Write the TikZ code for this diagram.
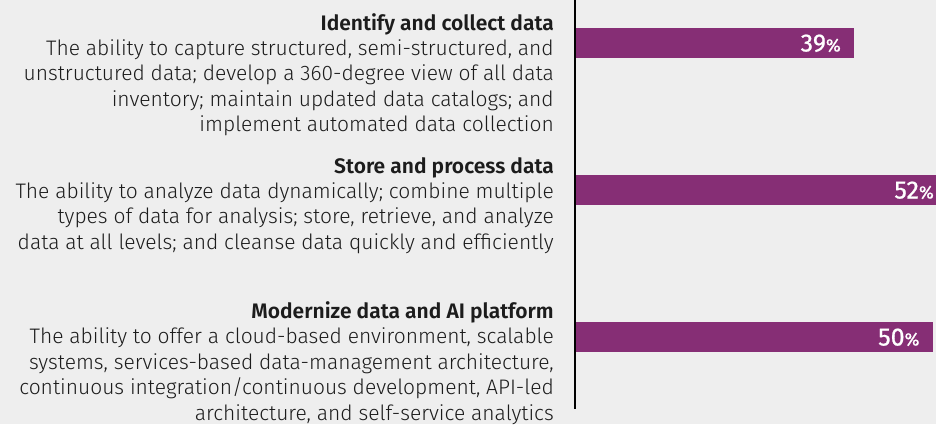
\documentclass[tikz,border=0pt]{standalone}
\usepackage{fontspec}
\setmainfont{Fira Sans Light}[BoldFont={Fira Sans SemiBold}]
\newfontfamily\numfont{Fira Sans}[FakeBold=0.8]
\usetikzlibrary{positioning}
\definecolor{barpurple}{HTML}{862E75}
\definecolor{bggray}{HTML}{EEEEEE}
\definecolor{textgray}{HTML}{1C1C1C}

\begin{document}
\begin{tikzpicture}[x=1pt, y=1pt,
  desc/.style={anchor=north east, align=right, inner sep=0pt, text=textgray,
    font=\fontsize{21}{25.4}\selectfont},
  pct/.style={anchor=base east, inner sep=0pt, text=white,
    font=\numfont\fontsize{25}{25}\selectfont},
  bar/.style={fill=barpurple}]

  \newcommand\X{7.154};
  \newcommand\AX{575};
  \newcommand\TX{554};
  \newcommand\BH{30};

  \fill[bggray] (0,0) rectangle (936,-424);
  \useasboundingbox (0,0) rectangle (936,-424);

  % bars
  \fill[bar] (\AX,-28) rectangle (\AX+39*\X,-28-\BH);
  \fill[bar] (\AX,-175) rectangle (\AX+52*\X,-175-\BH);
  \fill[bar] (\AX,-322) rectangle (\AX+50*\X,-322-\BH);

  \node[pct] (p1) at (\AX+39*\X-13, -51.5) {39{\fontsize{18}{18}\selectfont\%}};
  \node[pct] (p2) at (\AX+52*\X-13, -198.5) {52{\fontsize{18}{18}\selectfont\%}};
  \node[pct] (p3) at (\AX+50*\X-13, -345.5) {50{\fontsize{18}{18}\selectfont\%}};

  % axis
  \draw[line width=1.3pt] (\AX,0) -- (\AX,-409);

  % descriptions
  \node[desc] (d1) at (\TX,-13) {\textbf{Identify and collect data}\\
    The ability to capture structured, semi-structured, and\\
    unstructured data; develop a 360-degree view of all data\\
    inventory; maintain updated data catalogs; and\\
    implement automated data collection};

  \node[desc] (d2) at (\TX,-157) {\textbf{Store and process data}\\
    The ability to analyze data dynamically; combine multiple\\
    types of data for analysis; store, retrieve, and analyze\\
    data at all levels; and cleanse data quickly and efficiently};

  \node[desc] (d3) at (\TX,-301.5) {\textbf{Modernize data and AI platform}\\
    The ability to offer a cloud-based environment, scalable\\
    systems, services-based data-management architecture,\\
    continuous integration/continuous development, API-led\\
    architecture, and self-service analytics};

\end{tikzpicture}
\end{document}
